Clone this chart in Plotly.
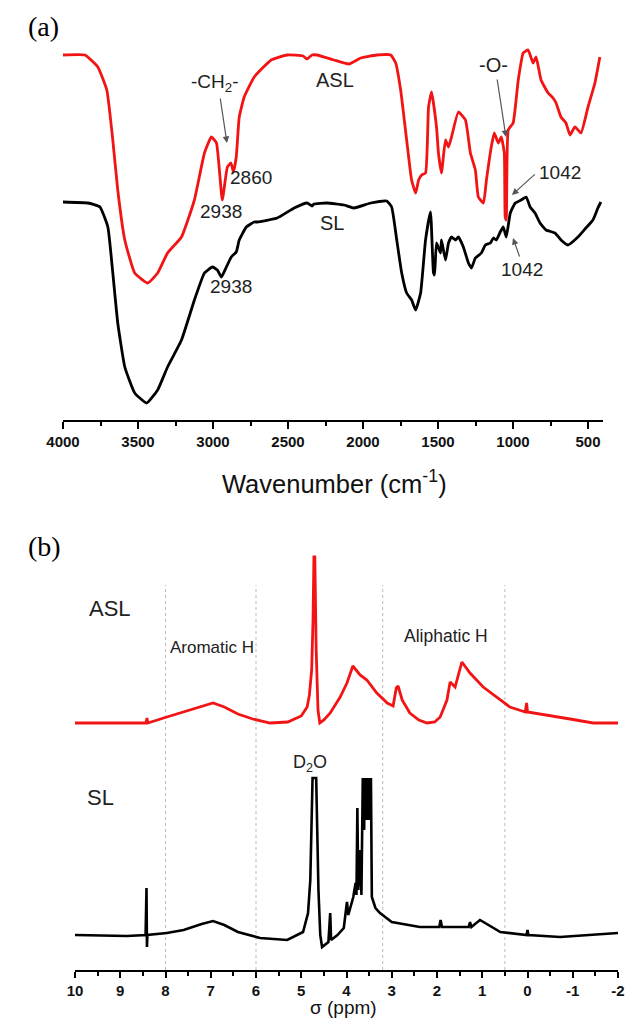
import plotly.graph_objects as go

# ---------------- (a) FTIR data (transmittance, a.u.) ----------------
ftir_wn_asl = [4000, 3854, 3768, 3708, 3668, 3635, 3588, 3522, 3435, 3369, 3303, 3210, 3124,
               3057, 3011, 2977, 2938, 2904, 2880, 2864, 2845, 2825, 2792, 2725, 2612, 2506,
               2400, 2373, 2340, 2307, 2194, 2094, 2015, 1908, 1815, 1782, 1749, 1709, 1676,
               1649, 1629, 1609, 1583, 1563, 1543, 1510, 1497, 1477, 1450, 1430, 1410, 1364,
               1317, 1284, 1251, 1231, 1197, 1177, 1145, 1125, 1098, 1078, 1058, 1052, 1045,
               1032, 999, 965, 932, 899, 866, 846, 813, 766, 733, 713, 680, 647, 620, 587,
               547, 500, 454, 421]
ftir_asl = [367, 367, 355, 332, 282, 232, 182, 149, 139, 149, 169, 185, 222,
            269, 285, 279, 222, 255, 259, 250, 265, 305, 325, 345, 362, 367,
            366, 363, 367, 367, 362, 358, 364, 367, 367, 359, 332, 282, 242,
            229, 242, 247, 249, 315, 330, 295, 269, 249, 282, 275, 285, 310,
            302, 269, 252, 225, 219, 242, 275, 289, 279, 285, 269, 205, 202,
            292, 299, 342, 369, 372, 359, 365, 342, 329, 324, 319, 305, 299, 287, 295,
            289, 315, 339, 365]

ftir_wn_sl = [4000, 3834, 3754, 3701, 3668, 3635, 3588, 3522, 3442, 3369, 3303, 3210, 3124,
              3057, 3004, 2971, 2944, 2911, 2878, 2845, 2825, 2778, 2725, 2705, 2572, 2459,
              2373, 2340, 2327, 2240, 2127, 2061, 1948, 1842, 1809, 1775, 1742, 1709, 1676,
              1649, 1616, 1583, 1550, 1530, 1523, 1510, 1483, 1477, 1450, 1430, 1410, 1384,
              1364, 1331, 1297, 1277, 1251, 1211, 1184, 1151, 1131, 1111, 1085, 1065, 1045,
              1018, 985, 946, 912, 886, 853, 820, 780, 720, 680, 634, 567, 514, 467, 434, 414]
ftir_sl = [220, 219, 215, 195, 149, 99, 55, 29, 19, 32, 55, 82, 122,
           149, 155, 152, 145, 155, 165, 170, 182, 195, 200, 200, 204, 214,
           219, 216, 218, 219, 217, 214, 219, 221, 215, 182, 149, 129, 122,
           112, 129, 182, 210, 149, 147, 179, 169, 182, 162, 179, 185, 182,
           185, 175, 159, 154, 164, 169, 177, 179, 184, 182, 190, 195, 185,
           209, 219, 222, 225, 215, 209, 199, 192, 189, 182, 177, 185, 194, 202, 214, 220]

ftir_ticks = [4000, 3500, 3000, 2500, 2000, 1500, 1000, 500]

# ---------------- (b) 1H NMR data (intensity, a.u.) ----------------
nmr_ppm_asl = [10.0, 9.0, 8.56, 8.43, 8.41, 8.39, 7.97, 7.6, 7.2, 6.95, 6.7, 6.4, 6.07, 5.69,
               5.3, 5.0, 4.87, 4.82, 4.77, 4.74, 4.72, 4.70, 4.67, 4.63, 4.59, 4.50, 4.36,
               4.14, 3.99, 3.86, 3.70, 3.55, 3.33, 3.10, 2.97, 2.90, 2.86, 2.77, 2.60, 2.40,
               2.22, 2.05, 1.93, 1.78, 1.71, 1.60, 1.45, 1.27, 0.98, 0.67, 0.39, 0.05, 0.02,
               0.0, -0.43, -0.94, -1.45, -2.0]
nmr_asl = [247, 247, 247, 247, 252, 247, 253, 258, 264, 267, 263, 256, 251, 247,
           248, 254, 263, 275, 300, 350, 413, 413, 320, 260, 247, 250, 257,
           273, 287, 304, 295, 290, 277, 267, 264, 282, 284, 270, 257, 250,
           247, 248, 253, 270, 288, 283, 308, 297, 283, 272, 263, 258, 267,
           258, 255, 251, 247, 247]

nmr_ppm_sl = [10.0, 8.85, 8.44, 8.43, 8.42, 8.41, 8.40, 7.97, 7.6, 7.2, 6.95, 6.7, 6.4, 5.91,
              5.31, 4.96, 4.85, 4.80, 4.77, 4.75, 4.67, 4.65, 4.62, 4.58, 4.54, 4.40, 4.36,
              4.34, 4.20, 4.06, 3.99, 3.96, 3.85, 3.80, 3.78, 3.76, 3.74, 3.70, 3.67, 3.64,
              3.63, 3.62, 3.61, 3.60, 3.59, 3.58, 3.57, 3.56, 3.55, 3.54, 3.53, 3.52, 3.51,
              3.50, 3.49, 3.48, 3.47, 3.46, 3.44, 3.36, 3.26, 3.00, 2.38, 1.95, 1.92, 1.89,
              1.30, 1.27, 1.24, 1.05, 0.80, 0.60, 0.02, 0.0, -0.02, -0.72, -2.0]
nmr_sl = [35, 34, 35, 82, 82, 23, 35, 37, 40, 46, 49, 45, 38, 32,
          30, 38, 57, 90, 150, 192, 192, 150, 80, 35, 23, 28, 57,
          30, 35, 42, 68, 55, 73, 87, 75, 162, 80, 120, 75, 192,
          150, 192, 140, 192, 150, 192, 160, 192, 150, 192, 160, 192, 150,
          192, 160, 192, 170, 192, 73, 62, 57, 48, 43, 43, 50, 43,
          43, 48, 43, 50, 43, 38, 35, 40, 35, 33, 37]

nmr_ticks = [10, 9, 8, 7, 6, 5, 4, 3, 2, 1, 0, -1, -2]
guide_ppm = [8, 6, 3.2, 0.5]

W, H = 626, 1019
RED = "#f21414"
INK = "#222222"
SANS = "Arial, Liberation Sans, sans-serif"
SERIF = "Times New Roman, Liberation Serif, serif"

fig = go.Figure()
fig.add_trace(go.Scatter(x=ftir_wn_asl, y=ftir_asl, mode="lines", name="ASL",
                         line=dict(color=RED, width=2.8, shape="spline", smoothing=0.4),
                         xaxis="x", yaxis="y"))
fig.add_trace(go.Scatter(x=ftir_wn_sl, y=ftir_sl, mode="lines", name="SL",
                         line=dict(color="black", width=2.8, shape="spline", smoothing=0.4),
                         xaxis="x", yaxis="y"))
fig.add_trace(go.Scatter(x=nmr_ppm_asl, y=nmr_asl, mode="lines", name="ASL",
                         line=dict(color=RED, width=2.8), xaxis="x2", yaxis="y2"))
fig.add_trace(go.Scatter(x=nmr_ppm_sl, y=nmr_sl, mode="lines", name="SL",
                         line=dict(color="black", width=2.6), xaxis="x2", yaxis="y2"))

def py(p):
    return 1 - p / H

axis_common = dict(showline=True, linecolor="black", linewidth=2, ticks="outside",
                   tickwidth=2, tickcolor="black", showgrid=False, zeroline=False,
                   tickfont=dict(family=SANS, size=15, color="#111", weight="bold"),
                   fixedrange=True, automargin=False)

fig.update_layout(
    width=W, height=H, margin=dict(l=0, r=0, t=0, b=0, autoexpand=False),
    paper_bgcolor="white", plot_bgcolor="white", showlegend=False,
    xaxis=dict(domain=[63 / W, 603 / W], range=[4000, 400], tickvals=ftir_ticks, ticklen=7,
               minor=dict(dtick=250, ticklen=4, tickwidth=2, ticks="outside", tickcolor="black"),
               anchor="y", **axis_common),
    yaxis=dict(domain=[py(420), py(40)], range=[2, 382], visible=False, fixedrange=True),
    xaxis2=dict(domain=[75 / W, 618 / W], range=[10, -2], tickvals=nmr_ticks, ticklen=6,
                ticktext=[str(t) for t in nmr_ticks],
                minor=dict(dtick=0.5, ticklen=4, tickwidth=2, ticks="outside", tickcolor="black"),
                anchor="y2", **axis_common),
    yaxis2=dict(domain=[py(970), py(545)], range=[0, 425], visible=False, fixedrange=True),
)

# dotted guide lines in (b)
for g in guide_ppm:
    fig.add_shape(type="line", xref="x2", yref="y2", x0=g, x1=g, y0=0, y1=385,
                  line=dict(color="#bbbbbb", width=1, dash="dot"), layer="below")

def label(text, x, y, xref, yref, size=18, color=INK, family=SANS, yanchor="middle", yshift=0):
    fig.add_annotation(text=text, x=x, y=y, xref=xref, yref=yref, showarrow=False,
                       yanchor=yanchor, yshift=yshift,
                       font=dict(family=family, size=size, color=color))

def arrow(x, y, ax, ay, xref, yref):
    fig.add_annotation(text="", x=x, y=y, ax=ax, ay=ay, xref=xref, yref=yref,
                       axref=xref, ayref=yref, showarrow=True, arrowhead=2,
                       arrowsize=1.1, arrowwidth=1.2, arrowcolor="#555555")

# panel letters
label("(a)", 26 / W, py(26), "paper", "paper", size=28, color="black", family=SERIF)
label("(b)", 26 / W, py(546), "paper", "paper", size=28, color="black", family=SERIF)

# (a) annotations
label("-CH<sub>2</sub>-", 2985, 339, "x", "y", size=19)
arrow(2907, 279, 2953, 325, "x", "y")
label("2860", 2745, 244, "x", "y", size=19)
label("2938", 2945, 210, "x", "y", size=19)
label("ASL", 2187, 342, "x", "y", size=20)
label("SL", 2207, 199, "x", "y", size=20)
label("2938", 2880, 135, "x", "y", size=19)
label("-O-", 1133, 357, "x", "y", size=20)
arrow(1047, 285, 1107, 344, "x", "y")
label("1042", 690, 249, "x", "y", size=19)
arrow(1007, 227, 845, 249, "x", "y")
label("1042", 940, 152, "x", "y", size=19)
arrow(1000, 184, 953, 164, "x", "y")
label("Wavenumber (cm<sup>-1</sup>)", 334 / W, py(482), "paper", "paper", size=25.5, color="#111")

# (b) annotations
label("ASL", 9.23, 362, "x2", "y2", size=22)
label("SL", 9.43, 173, "x2", "y2", size=22)
label("Aromatic H", 6.97, 323, "x2", "y2", size=17)
label("Aliphatic H", 1.8, 334, "x2", "y2", size=17.5)
label("D<sub>2</sub>O", 4.81, 207, "x2", "y2", size=18)
label("σ (ppm)", 343 / W, 0, "paper", "paper", size=19, color="#111",
      yanchor="bottom", yshift=-1)

fig.write_html("out.html")
